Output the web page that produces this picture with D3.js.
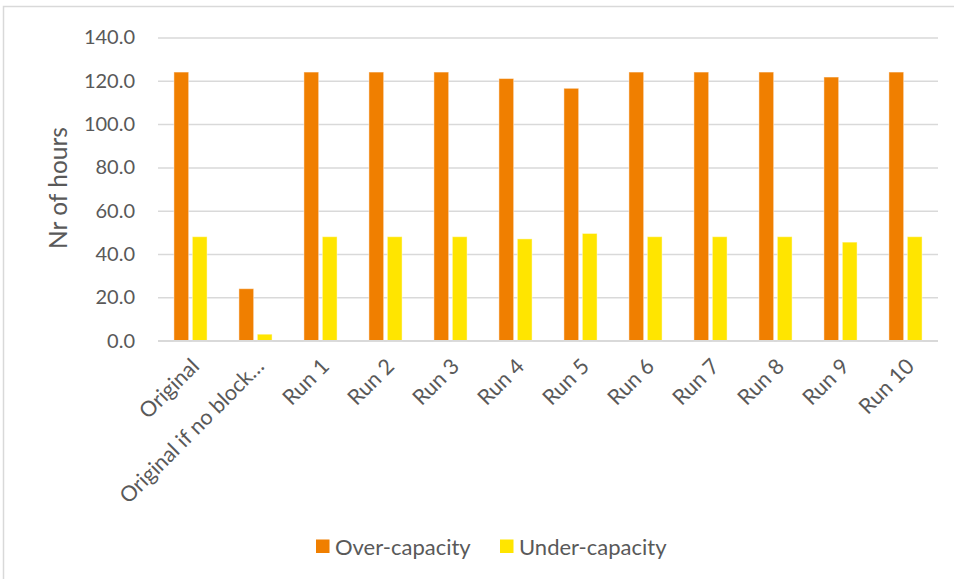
<!DOCTYPE html>
<html>
<head>
<meta charset="utf-8">
<script src="https://cdn.jsdelivr.net/npm/d3@7"></script>
<style>
  html, body { margin: 0; padding: 0; background: #fff; }
  svg { display: block; }
  text { font-family: Lato, "Open Sans", sans-serif; fill: #595959; }
</style>
</head>
<body>
<svg id="chart" width="954" height="579"></svg>
<script>
// Hours outside capacity per scenario
const categories = ["Original", "Original if no block…", "Run 1", "Run 2", "Run 3", "Run 4",
                    "Run 5", "Run 6", "Run 7", "Run 8", "Run 9", "Run 10"];
const seriesNames = ["Over-capacity", "Under-capacity"];
const overCapacity = [124, 24, 124, 124, 124, 121, 116.5, 124, 124, 124, 121.7, 124];
const underCapacity = [48, 3, 48, 48, 48, 47, 49.5, 48, 48, 48, 45.5, 48];
const yTicks = [0, 20, 40, 60, 80, 100, 120, 140];
const colors = ["#F07F00", "#FFE500"];

const rows = categories.map((c, i) => ({ category: c, values: [overCapacity[i], underCapacity[i]] }));

const svg = d3.select("#chart");
const W = 954, H = 579;
const plot = { left: 158, right: 938, top: 37.4, bottom: 340.7 };

// chart area frame (left and top edges visible)
svg.append("path")
  .attr("d", `M3.5,${H} V6.5 H${W}`)
  .attr("fill", "none")
  .attr("stroke", "#d9d9d9")
  .attr("stroke-width", 1.5);

const x = d3.scaleBand().domain(categories).range([plot.left, plot.right]).paddingInner(0.49).paddingOuter(0.245);
const xs = d3.scaleBand().domain(seriesNames).range([0, x.bandwidth()]).paddingInner(0.2);
const y = d3.scaleLinear().domain([0, 140]).range([plot.bottom, plot.top]);

// gridlines + value labels
const yAxis = d3.axisLeft(y)
  .tickValues(yTicks)
  .tickFormat(d3.format(".1f"))
  .tickSize(-(plot.right - plot.left))
  .tickPadding(23);

const yg = svg.append("g")
  .attr("transform", `translate(${plot.left},0)`)
  .call(yAxis);
yg.select(".domain").remove();
yg.selectAll(".tick line").attr("stroke", "#d9d9d9").attr("stroke-width", 1.5);
yg.selectAll(".tick text")
  .attr("font-size", 20)
  .style("fill", "#595959")
  .style("font-family", "Lato, 'Open Sans', sans-serif");

// bars
const groups = svg.append("g").selectAll("g")
  .data(rows)
  .join("g")
  .attr("transform", d => `translate(${x(d.category)},0)`);

groups.selectAll("rect")
  .data(d => d.values.map((v, k) => ({ key: seriesNames[k], value: v, k })))
  .join("rect")
  .attr("x", d => xs(d.key))
  .attr("width", xs.bandwidth())
  .attr("y", d => y(d.value))
  .attr("height", d => y(0) - y(d.value))
  .attr("fill", d => colors[d.k])
  .attr("stroke", "#ffffff")
  .attr("stroke-opacity", 0.45)
  .attr("stroke-width", 1);

// category axis line
svg.append("line")
  .attr("x1", plot.left).attr("x2", plot.right)
  .attr("y1", y(0)).attr("y2", y(0))
  .attr("stroke", "#d9d9d9").attr("stroke-width", 1.5);

// rotated category labels
const xAxis = d3.axisBottom(x).tickSize(0).tickPadding(0);
const xg = svg.append("g").attr("transform", `translate(0,${plot.bottom})`).call(xAxis);
xg.select(".domain").remove();
xg.selectAll(".tick text")
  .attr("font-size", 21.5)
  .style("fill", "#595959")
  .style("font-family", "Lato, 'Open Sans', sans-serif")
  .attr("text-anchor", "end")
  .attr("dy", null)
  .attr("y", null)
  .attr("transform", "translate(10,27) rotate(-45)");

// axis title
svg.append("text")
  .attr("transform", `translate(67,188) rotate(-90)`)
  .attr("text-anchor", "middle")
  .attr("font-size", 24.5)
  .text("Nr of hours");

// legend
const legend = svg.append("g");
const legendItems = [{ name: seriesNames[0], x: 316 }, { name: seriesNames[1], x: 500 }];
legendItems.forEach((it, k) => {
  legend.append("rect")
    .attr("x", it.x).attr("y", 539.5)
    .attr("width", 13.5).attr("height", 13.5)
    .attr("fill", colors[k]);
  legend.append("text")
    .attr("x", it.x + 19).attr("y", 554.5)
    .attr("font-size", 22)
    .text(it.name);
});
</script>
</body>
</html>
